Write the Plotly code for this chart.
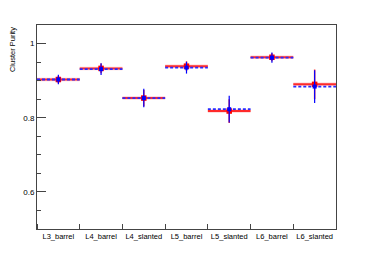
import plotly.graph_objects as go

categories = ["L3_barrel", "L4_barrel", "L4_slanted", "L5_barrel", "L5_slanted", "L6_barrel", "L6_slanted"]
red_vals = [0.903, 0.933, 0.853, 0.939, 0.818, 0.963, 0.890]
red_errs = [0.010, 0.013, 0.022, 0.013, 0.032, 0.011, 0.040]
blue_vals = [0.903, 0.931, 0.853, 0.935, 0.823, 0.962, 0.884]
blue_errs = [0.013, 0.016, 0.025, 0.016, 0.036, 0.014, 0.044]
y_ticks = [0.6, 0.8, 1.0]
y_tick_labels = ["0.6", "0.8", "1"]

n = len(categories)
centers = [i + 0.5 for i in range(n)]

def segs(vals):
    xs, ys = [], []
    for i, v in enumerate(vals):
        xs += [i, i + 1, None]
        ys += [v, v, None]
    return xs, ys

fig = go.Figure()
rx, ry = segs(red_vals)
bx, by = segs(blue_vals)
fig.add_trace(go.Scatter(x=rx, y=ry, mode="lines", line=dict(color="rgba(255,0,0,0.18)", width=3.5), hoverinfo="skip"))
fig.add_trace(go.Scatter(x=rx, y=ry, mode="lines", line=dict(color="#ff2a2a", width=2)))
fig.add_trace(go.Scatter(x=centers, y=red_vals, mode="markers",
                         marker=dict(symbol="square", size=5.5, color="red"),
                         error_y=dict(type="data", array=red_errs, color="#ff3030", thickness=1.5, width=0)))
fig.add_trace(go.Scatter(x=bx, y=by, mode="lines", line=dict(color="#2a2aff", width=1.8, dash="3px,2px")))
fig.add_trace(go.Scatter(x=centers, y=blue_vals, mode="markers",
                         marker=dict(symbol="square", size=4, color="blue"),
                         error_y=dict(type="data", array=blue_errs, color="blue", thickness=1.2, width=0)))

fig.update_layout(
    width=374, height=255,
    margin=dict(l=37, r=38, t=25, b=26),
    paper_bgcolor="white", plot_bgcolor="white",
    showlegend=False, hovermode=False,
    font=dict(family="Liberation Sans, Arial", size=8, color="black"),
)
fig.update_xaxes(
    range=[0, n], tickmode="array", tickvals=centers, ticktext=categories,
    ticks="", ticklen=0, showgrid=False, zeroline=False,
    showline=True, linecolor="#444", linewidth=1, mirror=True,
    tickfont=dict(size=7.5),
    minor=dict(tickmode="linear", tick0=0, dtick=1, ticks="inside", ticklen=5, tickcolor="#444", showgrid=False),
)
fig.update_yaxes(
    range=[0.5, 1.05], tickmode="array", tickvals=y_ticks, ticktext=y_tick_labels,
    ticks="inside", ticklen=9, tickcolor="#444", showgrid=False, zeroline=False,
    showline=True, linecolor="#444", linewidth=1, mirror=True,
    tickfont=dict(size=8),
    minor=dict(tickmode="linear", tick0=0.5, dtick=0.05, ticks="inside", ticklen=4, tickcolor="#444", showgrid=False),
)
fig.add_annotation(text="Cluster Purity", textangle=-90, xref="paper", yref="paper",
                   x=-0.06, y=1.0, xanchor="right", yanchor="top", showarrow=False,
                   font=dict(size=7.5))
fig.write_html("out.html", config={"displayModeBar": False},
               post_script="document.body.style.margin='0';")
